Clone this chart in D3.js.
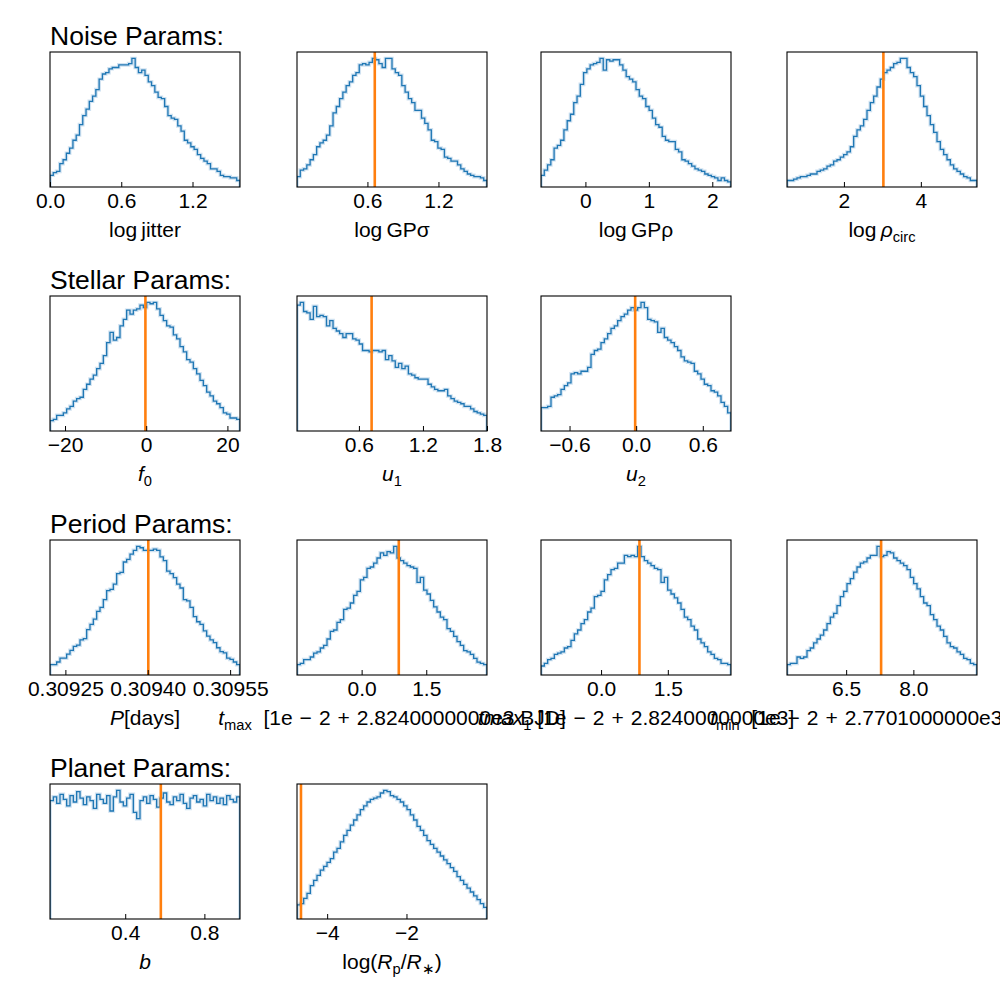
<!DOCTYPE html>
<html><head><meta charset="utf-8">
<script src="https://cdn.jsdelivr.net/npm/d3@7"></script>
<style>body{margin:0;background:#fff}svg{display:block}</style>
</head><body>
<svg id="chart" width="1000" height="1000"></svg>
<script>
// ---------------- data (relative bin counts) ----------------
const groupTitles = ["Noise Params:", "Stellar Params:", "Period Params:", "Planet Params:"];

const logJitterCounts = [9,11,12,18,21,26,30,36,40,48,55,60,66,70,75,83,87,88,91,92,92,94,94,94,95,99,92,88,90,86,81,78,73,69,68,62,55,53,52,47,43,36,34,31,29,25,22,20,18,14,14,12,9,8,8,7,7,5];
const logJitterRange = [0, 1.6];
const logJitterTicks = [0.0, 0.6, 1.2];

const logGPsigmaCounts = [8,13,14,17,21,25,31,34,36,40,47,57,62,68,73,78,81,86,88,94,95,94,96,99,98,95,92,99,99,91,88,86,78,73,68,65,59,59,53,49,44,36,35,30,29,23,22,20,20,17,14,12,10,9,8,8,7,5];
const logGPsigmaRange = [0.005, 1.61];
const logGPsigmaTicks = [0.6, 1.2];
const logGPsigmaTruth = 0.662;

const logGPrhoCounts = [9,13,17,21,30,32,36,44,51,56,65,70,79,88,91,94,95,96,99,90,98,97,98,98,94,90,85,83,81,75,70,68,62,59,53,48,46,39,36,35,35,29,27,21,20,18,16,14,13,12,10,9,8,7,5,7,5,4];
const logGPrhoRange = [-0.70, 2.295];
const logGPrhoTicks = [0, 1, 2];

const logRhoCircCounts = [5,5,6,7,8,8,9,10,10,12,13,14,16,17,20,21,23,25,27,31,39,44,47,52,59,65,70,77,83,88,90,92,95,96,99,99,92,88,85,78,70,62,55,48,42,35,29,25,21,17,14,12,10,8,7,5,5];
const logRhoCircRange = [0.52, 5.46];
const logRhoCircTicks = [2, 4];
const logRhoCircTruth = 3.026;

const f0Counts = [8,9,12,12,14,17,19,23,25,26,32,36,40,43,48,52,58,68,76,70,72,81,86,93,90,93,94,97,95,99,98,99,94,89,85,81,80,74,71,65,61,55,53,48,44,39,35,30,27,23,21,18,14,13,10,10,9];
const f0Range = [-23.7, 23.1];
const f0Ticks = [-20, 0, 20];
const f0Truth = -0.2;

const u1Counts = [97,99,92,91,86,96,88,89,88,81,85,79,77,75,72,75,75,71,70,67,62,62,61,62,62,61,62,55,58,54,49,52,48,50,44,43,41,40,40,40,36,34,32,31,31,32,27,25,23,22,21,19,19,17,15,14,13,12];
const u1Range = [0.02, 1.8];
const u1Ticks = [0.6, 1.2, 1.8];
const u1Truth = 0.719;

const u2Counts = [18,18,19,26,27,28,32,35,37,44,45,44,46,46,49,59,62,63,68,71,75,79,81,85,88,90,93,95,93,95,99,95,86,85,84,76,79,72,70,68,65,62,57,54,53,52,46,44,40,36,35,31,30,27,22,19,14];
const u2Range = [-0.857, 0.854];
const u2Ticks = [-0.6, 0.0, 0.6];
const u2Truth = -0.009;

const periodCounts = [8,8,10,13,13,16,19,22,23,27,28,35,39,43,49,52,58,65,66,70,78,79,87,89,93,96,99,98,96,96,96,97,96,91,88,80,78,75,70,67,58,57,52,45,41,39,34,30,27,25,21,18,17,13,12,10,8];
const periodRange = [0.309222, 0.309568];
const periodTicks = [0.30925, 0.30940, 0.30955];
const periodTruth = 0.309401;

const tmaxCounts = [8,9,12,12,14,17,18,21,23,28,34,35,41,43,51,52,56,62,65,74,76,83,84,87,91,95,93,96,95,100,91,89,87,85,84,83,72,76,66,63,58,53,49,45,43,36,34,30,26,23,19,18,16,13,10,9,8];
const tmaxRange = [-1.5, 2.91];
const tmaxTicks = [0.0, 1.5];
const tmaxTruth = 0.8625;

const tmax1Counts = [7,9,12,13,16,17,18,21,22,27,32,35,40,43,49,52,61,62,65,74,78,82,83,87,87,93,92,93,92,100,92,89,87,85,83,82,72,76,66,63,60,56,51,45,43,38,35,28,25,22,18,16,13,12,9,9,8];
const tmax1Range = [-1.35, 2.92];
const tmax1Ticks = [0.0, 1.5];
const tmax1Truth = 0.8625;

const tminCounts = [8,9,9,14,13,14,19,21,25,28,31,35,40,45,48,54,61,65,71,75,80,84,87,88,91,93,93,100,92,93,96,95,91,89,87,85,82,76,71,67,61,56,54,47,43,38,35,30,25,22,21,18,16,13,12,9,8];
const tminRange = [5.18, 9.42];
const tminTicks = [6.5, 8.0];
const tminTruth = 7.28;

const bCounts = [92,95,90,97,93,88,96,91,99,94,89,95,92,86,97,93,90,96,84,95,100,91,88,94,97,83,78,92,95,90,96,93,87,94,98,91,89,95,92,97,90,86,94,96,91,93,88,97,92,95,90,94,89,96,93,91,95];
const bRange = [0.02, 0.98];
const bTicks = [0.4, 0.8];
const bTruth = 0.58;

const logRorCounts = [11,12,16,20,26,30,34,38,41,44,47,52,55,60,65,69,73,77,81,85,88,91,93,94,95,98,100,99,96,95,93,91,88,85,81,77,72,69,65,61,58,55,52,49,46,43,40,37,33,30,27,24,21,18,15,12,9];
const logRorRange = [-4.76, 0.03];
const logRorTicks = [-4, -2];
const logRorTruth = -4.66;

// ---------------- layout ----------------
const colX = [50, 297, 541, 787];
const rowY = [52, 296, 540, 784];
const PW = 190, PH = 135;
const FONT = "Liberation Sans, Arial, sans-serif";
const TICK_FS = 21, LABEL_FS = 21, TITLE_FS = 26.5;
const BLUE = "#1f77b4", ORANGE = "#ff7f0e";

const fmt1 = d3.format(".1f");
const fmtInt = d3.format("d");
const fmt5 = d3.format(".5f");
const minus = s => s.replace("-", "\u2212");
const E = "\u2004"; // operator spacing as in mathtext

const panels = [
  {r:0,c:0,counts:logJitterCounts,range:logJitterRange,ticks:logJitterTicks,fmt:fmt1,
   label:[["log\u2009jitter","r"]]},
  {r:0,c:1,counts:logGPsigmaCounts,range:logGPsigmaRange,ticks:logGPsigmaTicks,fmt:fmt1,truth:logGPsigmaTruth,
   label:[["log\u2009GP\u03c3","r"]]},
  {r:0,c:2,counts:logGPrhoCounts,range:logGPrhoRange,ticks:logGPrhoTicks,fmt:fmtInt,
   label:[["log\u2009GP\u03c1","r"]]},
  {r:0,c:3,counts:logRhoCircCounts,range:logRhoCircRange,ticks:logRhoCircTicks,fmt:fmtInt,truth:logRhoCircTruth,
   label:[["log\u2009","r"],["\u03c1","i"],["circ","sub"]]},
  {r:1,c:0,counts:f0Counts,range:f0Range,ticks:f0Ticks,fmt:fmtInt,truth:f0Truth,
   label:[["f","i"],["0","sub"]]},
  {r:1,c:1,counts:u1Counts,range:u1Range,ticks:u1Ticks,fmt:fmt1,truth:u1Truth,
   label:[["u","i"],["1","sub"]]},
  {r:1,c:2,counts:u2Counts,range:u2Range,ticks:u2Ticks,fmt:fmt1,truth:u2Truth,
   label:[["u","i"],["2","sub"]]},
  {r:2,c:0,counts:periodCounts,range:periodRange,ticks:periodTicks,fmt:fmt5,truth:periodTruth,
   label:[["P","i"],["[days]","r"]]},
  {r:2,c:1,counts:tmaxCounts,range:tmaxRange,ticks:tmaxTicks,fmt:fmt1,truth:tmaxTruth,
   label:[["t","i"],["max","sub"],[`  [1e${E}\u2212${E}2${E}+${E}2.8240000000e3 BJD]`,"r"]]},
  {r:2,c:2,counts:tmax1Counts,range:tmax1Range,ticks:tmax1Ticks,fmt:fmt1,truth:tmax1Truth,
   label:[["tmax","i"],["1","sub"],[` [1e${E}\u2212${E}2${E}+${E}2.8240000000e3]`,"r"]]},
  {r:2,c:3,counts:tminCounts,range:tminRange,ticks:tminTicks,fmt:fmt1,truth:tminTruth,
   label:[["t","i"],["min","sub"],[`  [1e${E}\u2212${E}2${E}+${E}2.7701000000e3 BJD]`,"r"]]},
  {r:3,c:0,counts:bCounts,range:bRange,ticks:bTicks,fmt:fmt1,truth:bTruth,
   label:[["b","i"]]},
  {r:3,c:1,counts:logRorCounts,range:logRorRange,ticks:logRorTicks,fmt:fmtInt,truth:logRorTruth,
   label:[["log(","r"],["R","i"],["p","sub"],["/","r"],["R","i"],["\u2217","sub"],[")","r"]]},
];

const svg = d3.select("#chart").attr("font-family", FONT);
svg.append("rect").attr("width",1000).attr("height",1000).attr("fill","#fff");

groupTitles.forEach((t,i)=>{
  svg.append("text").attr("x", colX[0]).attr("y", rowY[i]-7)
    .attr("font-size", TITLE_FS).attr("fill","#000").text(t);
});

function drawLabel(g, x, y, segs){
  const t = g.append("text").attr("x",x).attr("y",y).attr("text-anchor","middle")
    .attr("font-size",LABEL_FS).attr("fill","#000").style("white-space","pre");
  let shift = 0;
  segs.forEach(([s,kind])=>{
    const ts = t.append("tspan").text(s);
    const target = kind==="sub" ? 5 : 0;
    if (target!==shift){ ts.attr("dy", target-shift); shift = target; }
    if (kind==="sub") ts.attr("font-size", LABEL_FS*0.7);
    if (kind==="i") ts.attr("font-style","italic");
  });
}

panels.forEach(p=>{
  const x0 = colX[p.c], y0 = rowY[p.r];
  const g = svg.append("g").attr("transform",`translate(${x0},${y0})`);
  const x = d3.scaleLinear().domain(p.range).range([0, PW]);
  const ymax = d3.max(p.counts)*1.05;
  const y = d3.scaleLinear().domain([0, ymax]).range([PH, 0]);
  const n = p.counts.length;
  const edges = d3.range(n+1).map(i => p.range[0] + (p.range[1]-p.range[0])*i/n);
  const pts = [[edges[0],0]];
  p.counts.forEach((c,i)=>{ pts.push([edges[i],c]); pts.push([edges[i+1],c]); });
  pts.push([edges[n],0]);
  const line = d3.line().x(d=>x(d[0])).y(d=>y(d[1]));

  const clip = "clip"+p.r+p.c;
  g.append("clipPath").attr("id",clip).append("rect").attr("width",PW).attr("height",PH);
  const pg = g.append("g").attr("clip-path",`url(#${clip})`);
  pg.append("path").attr("d",line(pts)).attr("fill","none")
    .attr("stroke","#a9cbe6").attr("stroke-width",3.6).attr("stroke-opacity",0.55)
    .attr("stroke-linejoin","miter");
  pg.append("path").attr("d",line(pts)).attr("fill","none")
    .attr("stroke",BLUE).attr("stroke-width",1.3).attr("stroke-linejoin","miter");
  if (p.truth!==undefined){
    pg.append("line").attr("x1",x(p.truth)).attr("x2",x(p.truth)).attr("y1",0).attr("y2",PH)
      .attr("stroke",ORANGE).attr("stroke-width",2.6);
  }

  const ax = g.append("g").attr("transform",`translate(0,${PH})`)
    .call(d3.axisBottom(x).tickValues(p.ticks).tickSizeInner(-5).tickSizeOuter(0)
      .tickPadding(6).tickFormat(d=>minus(p.fmt(d))));
  ax.select(".domain").remove();
  ax.selectAll(".tick line").attr("stroke","#000").attr("stroke-width",1);
  ax.selectAll(".tick text").attr("font-size",TICK_FS).attr("font-family",FONT).attr("fill","#000");

  g.append("rect").attr("x",0).attr("y",0).attr("width",PW).attr("height",PH)
    .attr("fill","none").attr("stroke","#000").attr("stroke-width",1.1);

  drawLabel(svg, x0+PW/2, y0+PH+50, p.label);
});
</script>
</body></html>
